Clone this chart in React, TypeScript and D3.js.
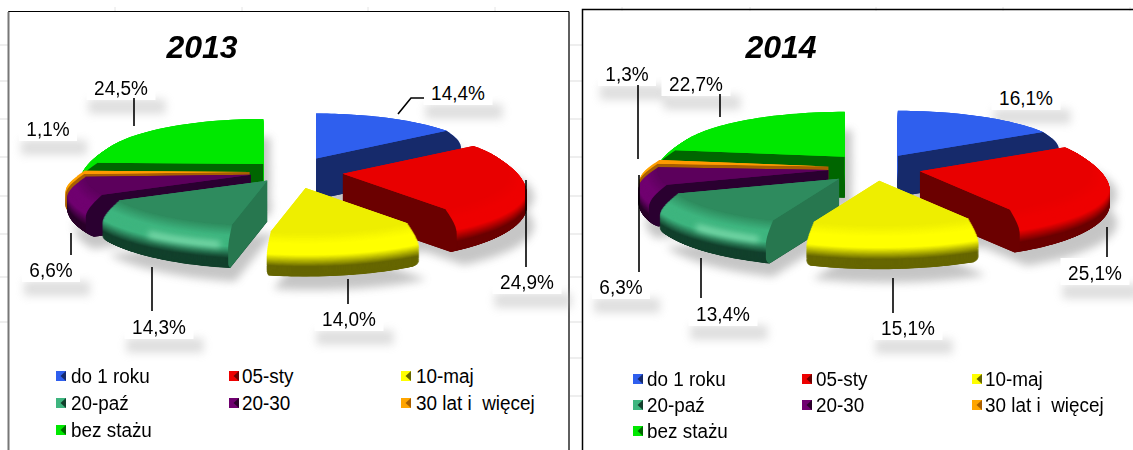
import React from "react";
import * as d3 from "d3";

const categories = ["do 1 roku", "05-sty", "10-maj", "20-paź", "20-30", "30 lat i  więcej", "bez stażu"];
const values2013 = [14.4, 24.9, 14.0, 14.3, 6.6, 1.1, 24.5];
const values2014 = [16.1, 25.1, 15.1, 13.4, 6.3, 1.3, 22.7];
const labels2013 = ["14,4%", "24,9%", "14,0%", "14,3%", "6,6%", "1,1%", "24,5%"];
const labels2014 = ["16,1%", "25,1%", "15,1%", "13,4%", "6,3%", "1,3%", "22,7%"];
const explode2013 = [1, 0.93, 1.1, 0.73, 0.77, 0.77, 0.75];
const explode2014 = [0.82, 0.82, 0.75, 0.92, 0.87, 0.87, 0.87];

// face, bright bevel, dark bevel, wall
const faceColors = ["#2f5fee", "#e80000", "#eeee00", "#2e8b5e", "#5c005c", "#ff9a00", "#00e800"];
const brightColors = ["#2f5fee", "#ee0000", "#ffff00", "#3eb57f", "#700070", "#ffa500", "#00e800"];
const darkColors = ["#162a6b", "#6b0000", "#666600", "#12402c", "#2a002a", "#a85f00", "#006600"];
const wallColors = ["#162a6b", "#6b0000", "#666600", "#27774f", "#2a0030", "#a85f00", "#006600"];
const drawOrder = [6, 5, 0, 4, 1, 3, 2];

type Leader = number[][];
const leaders2013: (Leader | null)[] = [
  [[398, 114], [411, 98], [424, 98]], [[526, 180], [526, 267]], [[348, 279], [348, 304]],
  [[152, 267], [152, 311]], [[71, 233], [71, 255]], null, [[134, 98], [134, 126]],
];
const leaders2014: (Leader | null)[] = [
  null, [[1107, 227], [1107, 257]], [[893, 278], [893, 313]],
  [[701, 258], [701, 298]], [[639, 175], [639, 272]], [[638, 85], [638, 159]], [[720, 94], [720, 117]],
];
const labelPos2013 = [[458, 92], [527, 281], [349, 318], [159, 326], [51, 269], [48, 128], [121, 87]];
const labelPos2014 = [[1026, 97], [1095, 272], [908, 327], [723, 313], [621, 286], [627, 73], [696, 83]];

const gridRowsLeft = [45, 81, 119, 157, 196, 234, 277, 322];
const gridRowsMid = [45, 81, 119, 157, 196, 234, 277, 322, 358, 396];
const topTicks = [115, 242, 368, 495, 622, 750, 876, 1003, 1130];

const RY = 50;
const DEPTH = 41;
const FACE_R = 0.9;
const LAYERS = 80;
const EX = 55;

type Cfg = {
  year: string; values: number[]; labels: string[]; explode: number[]; leaders: (Leader | null)[];
  labelPos: number[][]; cx: number; cy: number; rx: number; ey: number; titleX: number;
  legendX: number[]; legendTextX: number[]; legendY: number[]; uid: string;
};

const charts: Cfg[] = [
  { year: "2013", values: values2013, labels: labels2013, explode: explode2013, leaders: leaders2013, labelPos: labelPos2013,
    cx: 292, cy: 172, rx: 184, ey: 15, titleX: 202, legendX: [56, 229, 401], legendTextX: [71, 242, 416], legendY: [376, 403, 430], uid: "a" },
  { year: "2014", values: values2014, labels: labels2014, explode: explode2014, leaders: leaders2014, labelPos: labelPos2014,
    cx: 876, cy: 168, rx: 190, ey: 17, titleX: 781, legendX: [633, 802, 972], legendTextX: [647, 816, 985], legendY: [379, 405, 431], uid: "b" },
];

const line = d3.line<[number, number]>().x((p) => p[0]).y((p) => p[1]);
const curve = d3.line<[number, number]>().x((p) => p[0]).y((p) => p[1]).curve(d3.curveCatmullRom);

const radialAt = (t: number) => {
  if (t >= 0.8) return 1 - 0.05 * ((t - 0.8) / 0.2) ** 2;
  return FACE_R + (1 - FACE_R) * Math.sin(Math.min(1, t / 0.5) * Math.PI / 2);
};

const shade = (i: number, t: number) => {
  const c = d3.scaleLinear<string>()
    .domain([0, 0.2, 0.42, 0.7, 1])
    .range([faceColors[i], brightColors[i], brightColors[i], darkColors[i], darkColors[i]])
    .interpolate(d3.interpolateRgb);
  return c(t);
};

function Chart({ cfg }: { cfg: Cfg }) {
  const pie = d3.pie<number>().sort(null).startAngle(0).endAngle(Math.PI * 2);
  const arcs = pie(cfg.values);

  const geom = arcs.map((a, i) => {
    const mid = (a.startAngle + a.endAngle) / 2;
    const ax = cfg.cx + EX * cfg.explode[i] * Math.sin(mid);
    const ay = cfg.cy - cfg.ey * cfg.explode[i] * Math.cos(mid);
    const pt = (theta: number, rf: number, t: number): [number, number] => [
      ax + cfg.rx * rf * Math.sin(theta),
      ay - RY * rf * Math.cos(theta) + DEPTH * t,
    ];
    const sector = (rf: number, t: number) => {
      const steps = d3.range(0, 41).map((k) => a.startAngle + ((a.endAngle - a.startAngle) * k) / 40);
      const pts: [number, number][] = [[ax, ay + DEPTH * t], ...steps.map((th) => pt(th, rf, t))];
      return line(pts) + "Z";
    };
    const wall = (theta: number) => {
      const ts = d3.range(0, 21).map((k) => k / 20);
      const pts: [number, number][] = [[ax, ay], ...ts.map((t) => pt(theta, radialAt(t), t)), [ax, ay + DEPTH]];
      return line(pts) + "Z";
    };
    return { a, ax, ay, pt, sector, wall };
  });

  const bevelTs = d3.range(LAYERS, -1, -1).map((k) => k / LAYERS);
  const highlightAngles = d3.range(0, 21).map((k) => {
    const a = arcs[3];
    return a.startAngle + 0.05 + ((a.endAngle - a.startAngle) * 0.5 * k) / 20;
  });

  return (
    <g>
      <g filter="url(#soft)" opacity={0.42}>
        {geom.map((g, i) => (
          <path key={i} d={g.sector(1, 1)} transform="translate(7,11)" fill="#777" />
        ))}
        {geom.map((g, i) => (
          <path key={i} d={g.sector(1, 0.3)} transform="translate(7,11)" fill="#777" />
        ))}
      </g>

      {cfg.labels.map((l, i) => {
        const [x, y] = cfg.labelPos[i];
        const w = l.length * 11 + 22;
        return <rect key={i} x={x - w / 2 + 6} y={y + 12} width={w} height={15} fill="#aaa" opacity={0.38} filter="url(#soft)" />;
      })}

      {drawOrder.map((i) => {
        const g = geom[i];
        const sinS = Math.sin(g.a.startAngle);
        const sinE = Math.sin(g.a.endAngle);
        return (
          <g key={i}>
            {bevelTs.map((t) => (
              <path key={t} d={g.sector(radialAt(t), t)} fill={shade(i, t)} />
            ))}
            {sinS < -1e-6 && <path d={g.wall(g.a.startAngle)} fill={wallColors[i]} />}
            {sinE > 1e-6 && <path d={g.wall(g.a.endAngle)} fill={wallColors[i]} />}
            <path d={g.sector(FACE_R, 0)} fill={faceColors[i]} />
            {i === 3 && (
              <path
                d={curve(highlightAngles.map((th) => g.pt(th, 0.985, 0.4))) || ""}
                fill="none" stroke="#9ff0c4" strokeWidth={6} opacity={0.7} filter="url(#glow)"
              />
            )}
          </g>
        );
      })}

      {cfg.labels.map((l, i) => {
        const [x, y] = cfg.labelPos[i];
        const w = l.length * 11 + 14;
        return <rect key={i} x={x - w / 2} y={y - 14} width={w} height={27} fill="#fff" />;
      })}

      {cfg.leaders.map((p, i) =>
        p ? <path key={i} d={line(p as [number, number][]) || ""} fill="none" stroke="#000" strokeWidth={1.6} /> : null
      )}

      {cfg.labels.map((l, i) => (
        <text key={i} transform={`translate(${cfg.labelPos[i][0]},${cfg.labelPos[i][1] + 7.5}) scale(1,1.1)`}
          textAnchor="middle" fontSize={19} fontFamily="Liberation Sans" fill="#000">{l}</text>
      ))}

      <text x={cfg.titleX} y={58} textAnchor="middle" fontSize={32} fontWeight="bold" fontStyle="italic"
        fontFamily="Liberation Sans" fill="#000">{cfg.year}</text>

      {categories.map((c, i) => {
        const col = i % 3;
        const row = Math.floor(i / 3);
        const x = cfg.legendX[col];
        const y = cfg.legendY[row];
        const s = 10;
        const tri: [number, number][] = [[x + s, y - s / 2], [x + s * 0.45, y], [x + s, y + s / 2]];
        return (
          <g key={c}>
            <rect x={x} y={y - s / 2} width={s} height={s} fill={brightColors[i]} />
            <path d={line(tri) + "Z"} fill={darkColors[i]} />
            <text transform={`translate(${cfg.legendTextX[col]},${y + 7}) scale(1,1.08)`} fontSize={18.9} fontFamily="Liberation Sans" fill="#000"
              style={{ whiteSpace: "pre" }}>{c}</text>
          </g>
        );
      })}
    </g>
  );
}

export default function App() {
  return (
    <svg width={1133} height={450} style={{ position: "absolute", left: 0, top: 0 }}>
      <defs>
        <filter id="soft" x="-30%" y="-80%" width="160%" height="260%">
          <feGaussianBlur stdDeviation={4.5} />
        </filter>
        <filter id="glow" x="-30%" y="-100%" width="160%" height="300%">
          <feGaussianBlur stdDeviation={3} />
        </filter>
      </defs>
      <rect width={1133} height={450} fill="#fff" />
      {gridRowsLeft.map((y) => <line key={y} x1={0} x2={8} y1={y} y2={y} stroke="#ddd" />)}
      {gridRowsMid.map((y) => <line key={y} x1={570} x2={582} y1={y} y2={y} stroke="#ddd" />)}
      {topTicks.map((x) => <line key={x} x1={x} x2={x} y1={7} y2={11} stroke="#e4e4e4" />)}

      <path d="M8.5,450V11.5H569V450" fill="none" stroke="#000" strokeWidth={1} />
      <line x1={8.5} x2={8.5} y1={12} y2={450} stroke="#777" strokeWidth={2} />
      <line x1={569} x2={569} y1={12} y2={450} stroke="#555" strokeWidth={1.5} />
      <path d="M582.5,450V9.5H1133" fill="none" stroke="#000" strokeWidth={1.5} />

      {charts.map((c) => <Chart key={c.uid} cfg={c} />)}
    </svg>
  );
}
